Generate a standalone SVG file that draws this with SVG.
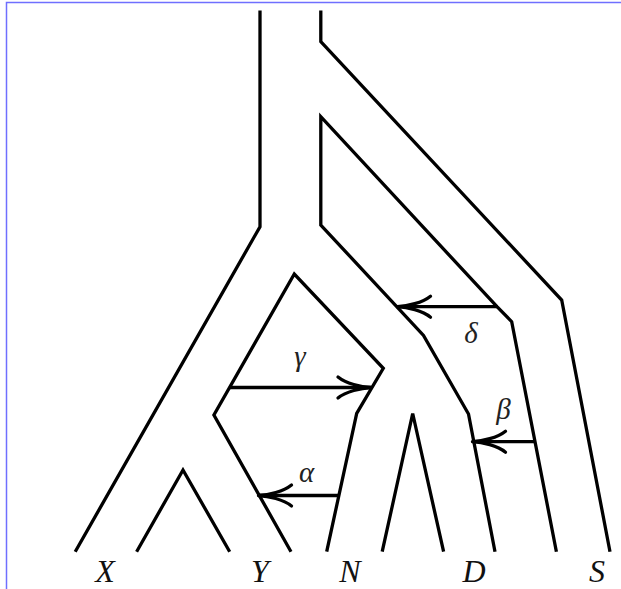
<svg xmlns="http://www.w3.org/2000/svg" width="621" height="589" viewBox="0 0 621 589">
<style>
.br{fill:none;stroke:#000;stroke-width:3.3;stroke-linejoin:miter;stroke-linecap:butt}
.ar{fill:none;stroke:#000;stroke-width:3.3}
.lb{font-family:"Liberation Serif","DejaVu Serif",serif;font-style:italic;font-size:32px;text-anchor:middle;fill:#111}
.gk{font-family:"Liberation Serif","DejaVu Serif",serif;font-style:italic;font-size:29px;text-anchor:middle;fill:#222}
</style>
<defs>
<marker id="to" markerUnits="userSpaceOnUse" orient="auto" refX="0" refY="0" markerWidth="40" markerHeight="30" overflow="visible">
<path d="M-33,-10.5 C-25,-4 -10,-0.5 0,0 M-33,10.5 C-25,4 -10,0.5 0,0" fill="none" stroke="#000" stroke-width="3.3" stroke-linecap="round"/>
</marker>
</defs>
<rect width="621" height="589" fill="#fff"/>
<path d="M6.5,589 V2.5 H621" fill="none" stroke="#6f6fff" stroke-width="1.5"/>
<g id="tree">
<path class="br" d="M260,10.5 V226.7 L75.2,551.7"/>
<path class="br" d="M320.8,10.5 V41.7 L561.7,300 L610,551.7"/>
<path class="br" d="M556.4,551.7 L511.7,321.7 L497,306.7 L320.8,116.7 V225 L423.5,335.5 L468.5,414 L495,551.7"/>
<path class="br" d="M291,551.7 L213.9,415 L294.3,274 L383.3,368.3 L356.7,413.3 L326.7,551.7"/>
<path class="br" d="M136.6,551.7 L183,470 L229.7,551.7"/>
<path class="br" d="M382.2,551.7 L412.7,413.5 L443.6,551.7"/>
</g>
<g id="connectors">
<path class="ar" d="M497,306.7 H397.5" marker-end="url(#to)"/>
<path class="ar" d="M229.6,387.5 H371" marker-end="url(#to)"/>
<path class="ar" d="M339,495.5 H258.5" marker-end="url(#to)"/>
<path class="ar" d="M535,441.7 H472.5" marker-end="url(#to)"/>
</g>
<g id="edge-labels">
<text class="gk" x="471" y="343">δ</text>
<text class="gk" x="300" y="366">γ</text>
<text class="gk" x="503.5" y="419">β</text>
<text class="gk" x="306.5" y="482">α</text>
</g>
<g id="leaf-X"><text class="lb" x="105" y="582">X</text></g>
<g id="leaf-Y"><text class="lb" x="260" y="582">Y</text></g>
<g id="leaf-N"><text class="lb" x="350" y="582">N</text></g>
<g id="leaf-D"><text class="lb" x="474" y="582">D</text></g>
<g id="leaf-S"><text class="lb" x="597" y="582">S</text></g>
</svg>
